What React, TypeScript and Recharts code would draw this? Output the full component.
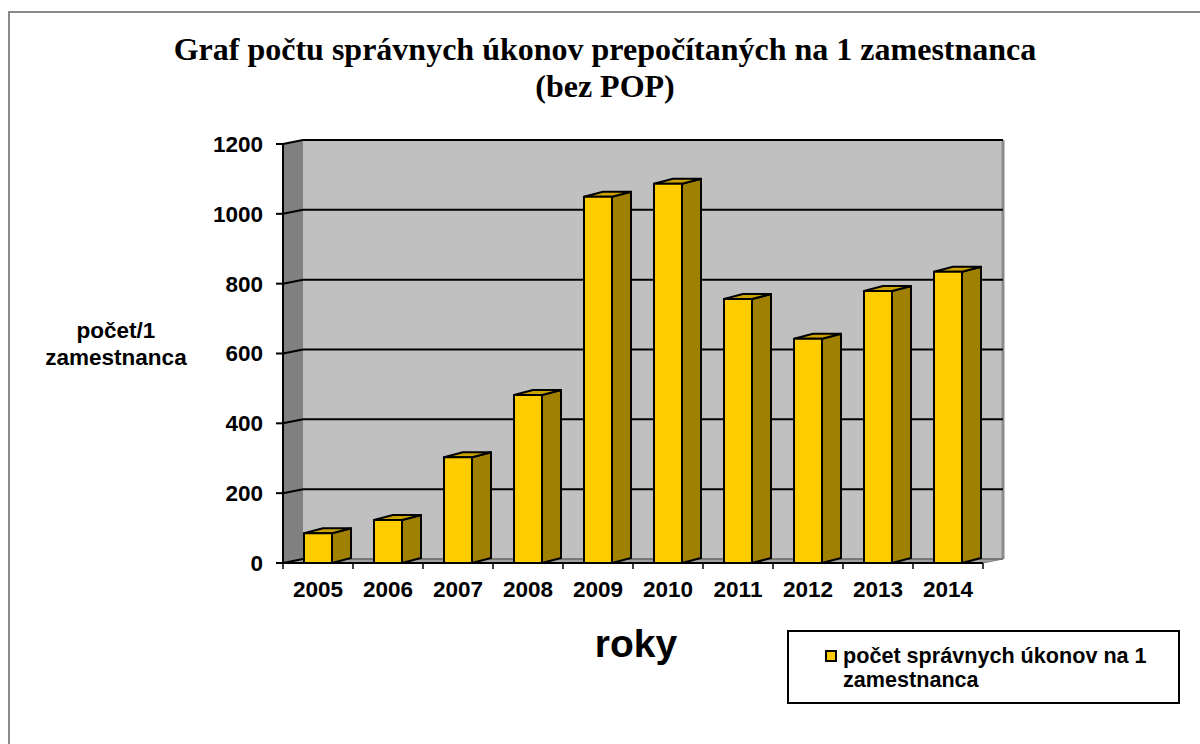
import React from "react";
import { BarChart, Bar, XAxis, YAxis, CartesianGrid, ReferenceArea, Legend } from "recharts";

const years = ["2005", "2006", "2007", "2008", "2009", "2010", "2011", "2012", "2013", "2014"];
const counts = [85, 123, 303, 481, 1049, 1086, 756, 642, 779, 834];
const yTicks = [0, 200, 400, 600, 800, 1000, 1200];
const titleLines = ["Graf počtu správnych úkonov prepočítaných na 1 zamestnanca", "(bez POP)"];
const yAxisTitle = ["počet/1", "zamestnanca"];
const xAxisTitle = "roky";
const seriesName = "počet správnych úkonov na 1 zamestnanca";

const SANS = "'Liberation Sans', Arial, sans-serif";
const SERIF = "'Liberation Serif', 'Times New Roman', serif";

// depth of the fake 3d walls and bars
const WALL_DX = 20;
const WALL_DY = 4;
const BAR_DX = 19;
const BAR_DY = 5;

const data = years.map((year, i) => ({ year, count: counts[i] }));

function Walls(props: any) {
  const { x, y, width, height } = props;
  const bottom = y + height;
  const right = x + width;
  return (
    <g>
      <polygon
        points={`${x + WALL_DX},${y - WALL_DY} ${right + WALL_DX},${y - WALL_DY} ${right + WALL_DX},${bottom - WALL_DY} ${x + WALL_DX},${bottom - WALL_DY}`}
        fill="#C0C0C0"
      />
      <polygon
        points={`${x},${y} ${x + WALL_DX},${y - WALL_DY} ${x + WALL_DX},${bottom - WALL_DY} ${x},${bottom}`}
        fill="#808080"
      />
      <polygon
        points={`${x},${bottom} ${x + WALL_DX},${bottom - WALL_DY} ${right + WALL_DX},${bottom - WALL_DY} ${right},${bottom}`}
        fill="#A0A0A0"
        stroke="#808080"
        strokeWidth={1}
      />
      <line x1={right + WALL_DX} y1={y - WALL_DY} x2={right + WALL_DX} y2={bottom - WALL_DY} stroke="#8C8C8C" strokeWidth={3} />
    </g>
  );
}

const gridLine = (p: any) => {
  const { x1, x2, y1, index } = p;
  const isFloor = index === 0;
  return (
    <g key={p.key}>
      <line x1={x1} y1={y1} x2={x1 + WALL_DX} y2={y1 - WALL_DY} stroke="#000" strokeWidth={2} />
      <line
        x1={x1 + WALL_DX}
        y1={y1 - WALL_DY}
        x2={x2 + WALL_DX}
        y2={y1 - WALL_DY}
        stroke={isFloor ? "#6E6E6E" : "#000"}
        strokeWidth={isFloor ? 1.5 : 2}
      />
    </g>
  );
};

function Bar3D(props: any) {
  const { x, y, width, height } = props;
  if (!height || height <= 0) return null;
  const r = x + width;
  const b = y + height;
  return (
    <g stroke="#000" strokeWidth={2} strokeLinejoin="round">
      <polygon
        points={`${r},${y} ${r + BAR_DX},${y - BAR_DY} ${r + BAR_DX},${b - BAR_DY} ${r},${b}`}
        fill="#A08000"
      />
      <polygon
        points={`${x},${y} ${x + BAR_DX},${y - BAR_DY} ${r + BAR_DX},${y - BAR_DY} ${r},${y}`}
        fill="#CCA300"
      />
      <rect x={x} y={y} width={width} height={height} fill="#FFCC00" />
    </g>
  );
}

function YearTick(props: any) {
  const { x, y, payload, index } = props;
  const half = payload && payload.offset ? payload.offset : 35;
  const last = index === years.length - 1;
  return (
    <g>
      <line x1={x - half} y1={y} x2={x - half} y2={y + 6} stroke="#000" strokeWidth={1.5} />
      {last && <line x1={x + half} y1={y} x2={x + half} y2={y + 6} stroke="#000" strokeWidth={1.5} />}
      <text x={x} y={y + 34} textAnchor="middle" fontFamily={SANS} fontWeight="bold" fontSize={22.5} fill="#000">
        {payload.value}
      </text>
    </g>
  );
}

function LegendBox(props: any) {
  const item = props.payload && props.payload[0];
  const name = item ? item.value : seriesName;
  return (
    <div
      style={{
        position: "relative",
        width: 393,
        height: 74,
        boxSizing: "border-box",
        border: "2px solid #000",
        background: "#fff",
      }}
    >
      <div
        style={{
          position: "absolute",
          left: 36,
          top: 18,
          width: 8,
          height: 8,
          background: "#FFCC00",
          border: "2px solid #000",
        }}
      />
      <div
        style={{
          position: "absolute",
          left: 54,
          top: 12,
          width: 325,
          fontFamily: SANS,
          fontWeight: "bold",
          fontSize: 21.6,
          lineHeight: "24px",
          color: "#000",
          textAlign: "left",
        }}
      >
        {name}
      </div>
    </div>
  );
}

export default function App() {
  return (
    <div style={{ position: "absolute", left: 0, top: 0, width: 1200, height: 744, overflow: "hidden", background: "#fff" }}>
      <div
        style={{
          position: "absolute",
          left: 8,
          top: 11,
          width: 1300,
          height: 900,
          border: "2px solid #8A8A8A",
        }}
      />
      <svg width={1200} height={744} style={{ position: "absolute", left: 0, top: 0 }}>
        {titleLines.map((t, i) => (
          <text key={t} x={605} y={60 + i * 37} textAnchor="middle" fontFamily={SERIF} fontWeight="bold" fontSize={32} fill="#000">
            {t}
          </text>
        ))}
        {yAxisTitle.map((t, i) => (
          <text key={t} x={116} y={338 + i * 27} textAnchor="middle" fontFamily={SANS} fontWeight="bold" fontSize={22.5} fill="#000">
            {t}
          </text>
        ))}
        <text x={636} y={657} textAnchor="middle" fontFamily={SANS} fontWeight="bold" fontSize={39} fill="#000">
          {xAxisTitle}
        </text>
      </svg>
      <div style={{ position: "absolute", left: 0, top: 0 }}>
        <BarChart width={1200} height={744} data={data} margin={{ top: 144, right: 217, bottom: 151, left: 203 }}>
          <ReferenceArea y1={0} y2={1200} shape={<Walls />} fill="none" stroke="none" zIndex={-200} ifOverflow="visible" />
          <CartesianGrid vertical={false} horizontal={gridLine} />
          <XAxis
            dataKey="year"
            height={30}
            tickSize={0}
            tickMargin={0}
            tickLine={false}
            axisLine={{ stroke: "#000", strokeWidth: 2 }}
            tick={<YearTick />}
            interval={0}
          />
          <YAxis
            width={80}
            domain={[0, 1200]}
            ticks={yTicks}
            interval={0}
            tickSize={7}
            tickMargin={13}
            axisLine={{ stroke: "#000", strokeWidth: 2 }}
            tickLine={{ stroke: "#000", strokeWidth: 2 }}
            tick={{ fontFamily: SANS, fontWeight: "bold", fontSize: 22.5, fill: "#000" }}
          />
          <Bar dataKey="count" name={seriesName} fill="#FFCC00" barSize={28} shape={<Bar3D />} isAnimationActive={false} />
          <Legend
            layout="horizontal"
            align="center"
            verticalAlign="middle"
            content={<LegendBox />}
            wrapperStyle={{ left: 787, top: 630, width: 393, height: 74 }}
          />
        </BarChart>
      </div>
    </div>
  );
}
